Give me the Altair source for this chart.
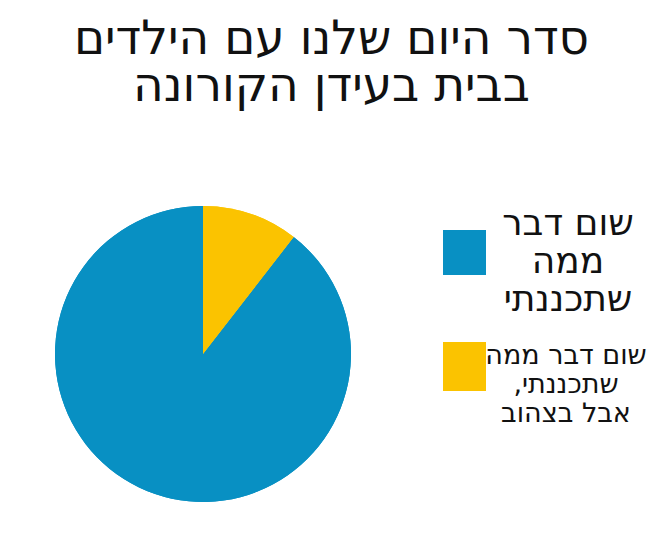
import altair as alt
import pandas as pd

# data
categories = ["שום דבר\nממה\nשתכננתי", "שום דבר ממה\nשתכננתי,\u200f\nאבל בצהוב"]
values = [89.5, 10.5]
order = [2, 1]
colors = ["#0890C3", "#FBC300"]

title_lines = ["סדר היום שלנו עם הילדים", "בבית בעידן הקורונה"]

df = pd.DataFrame({"category": categories, "value": values, "order": order})

FONT = "DejaVu Sans"


def pie(legend_value, font_size, lx, ly, symbol_path, label_offset):
    return (
        alt.Chart(df)
        .mark_arc(outerRadius=148)
        .encode(
            theta=alt.Theta("value:Q", stack=True),
            order=alt.Order("order:Q"),
            color=alt.Color(
                "category:N",
                scale=alt.Scale(domain=categories, range=colors),
                legend=alt.Legend(
                    title=None,
                    values=[legend_value],
                    orient="none",
                    legendX=lx,
                    legendY=ly,
                    symbolType=symbol_path,
                    symbolSize=1849,
                    symbolStrokeWidth=0,
                    symbolOpacity=1,
                    labelFont=FONT,
                    labelFontSize=font_size,
                    labelColor="#111111",
                    labelAlign="center",
                    labelOffset=label_offset,
                    labelLimit=0,
                    labelExpr="split(datum.label, '\\n')",
                ),
            ),
        )
    )


chart = (
    alt.layer(
        pie(categories[0], 36, 435, -2, "M-1,0.3H1V2.4H-1Z", 82),
        pie(categories[1], 27, 435, 130.5, "M-1,-0.65H1V1.63H-1Z", 80),
    )
    .resolve_scale(color="independent")
    .properties(
        width=390,
        height=300,
        title=alt.TitleParams(
            text=title_lines,
            font=FONT,
            fontSize=47,
            fontWeight="normal",
            color="#111111",
            anchor="middle",
            frame="bounds",
            lineHeight=47,
            offset=91,
            dx=4,
        ),
        padding={"left": 0, "top": 8, "right": 0, "bottom": 0},
    )
    .configure_view(stroke=None)
    .configure(background="white")
)

chart.save("out.html", embed_options={"renderer": "svg", "actions": False})
